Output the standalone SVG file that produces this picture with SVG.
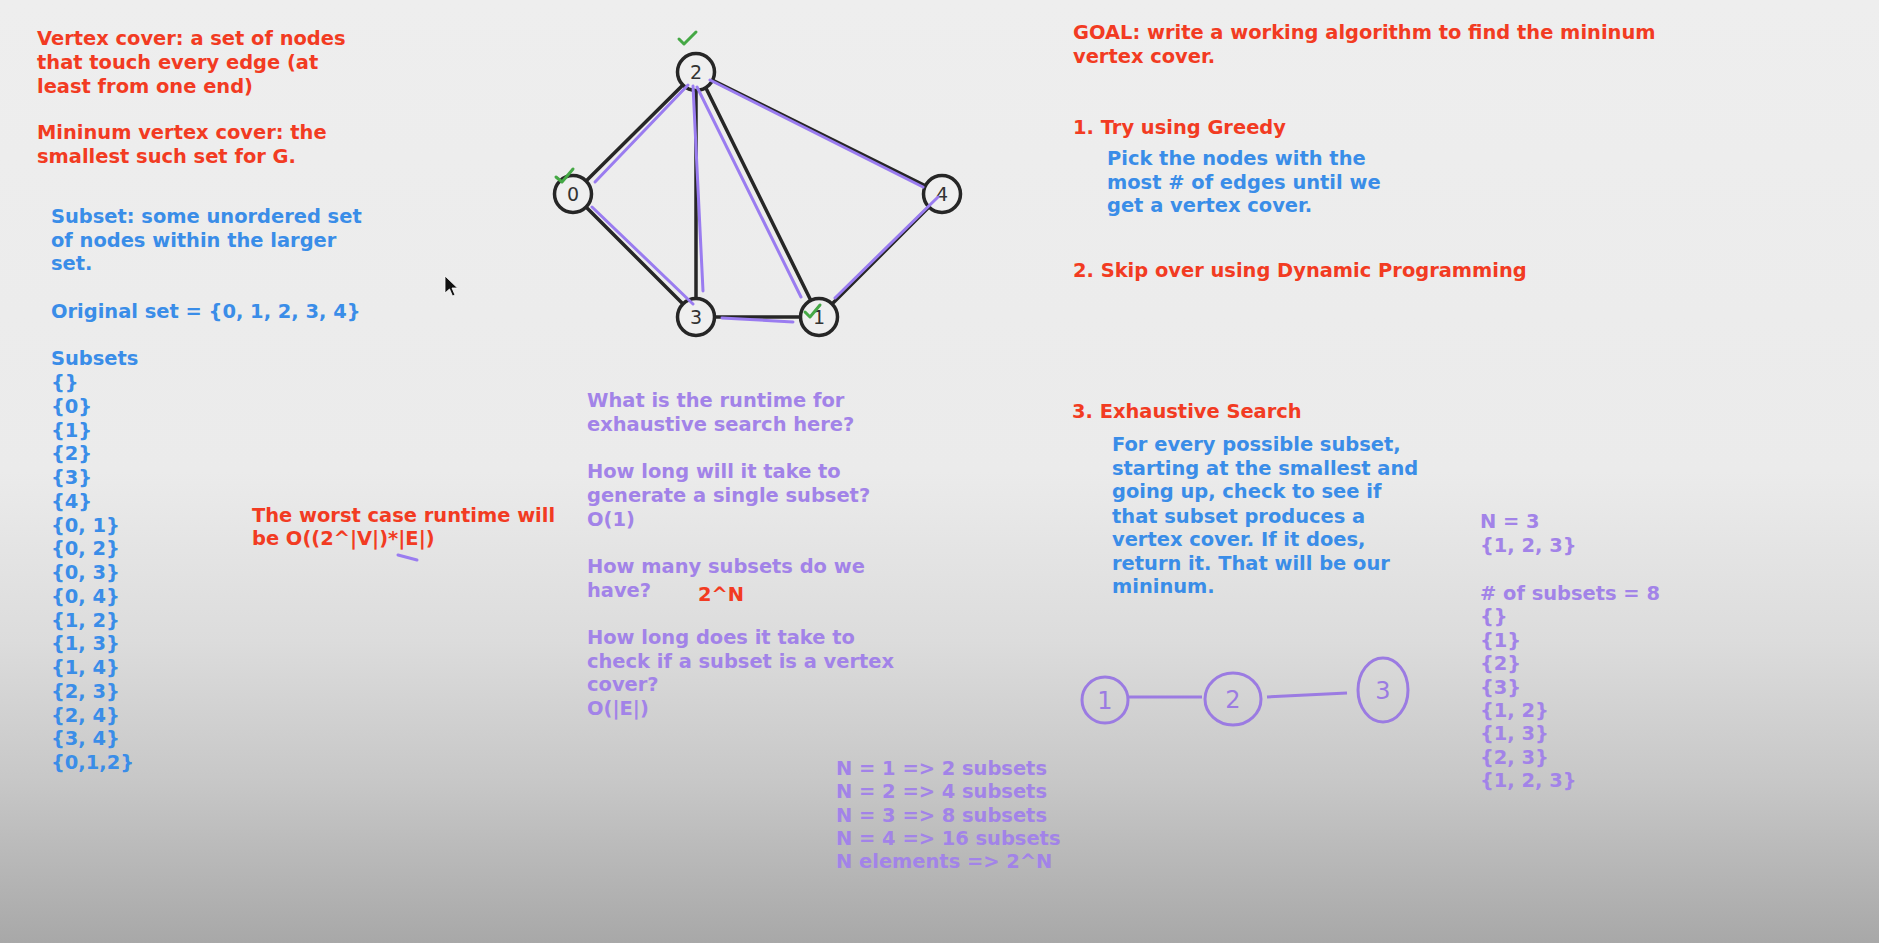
<svg xmlns="http://www.w3.org/2000/svg" width="1879" height="943" viewBox="0 0 1879 943">
<defs>
<linearGradient id="bg" x1="0" y1="0" x2="0" y2="943" gradientUnits="userSpaceOnUse">
<stop offset="0" stop-color="#eeeeee"/>
<stop offset="0.5" stop-color="#ebebeb"/>
<stop offset="0.68" stop-color="#dcdcdc"/>
<stop offset="0.83" stop-color="#c7c7c7"/>
<stop offset="1" stop-color="#a8a8a8"/>
</linearGradient>
<style>
text{font-family:"DejaVu Sans","Verdana",sans-serif;font-weight:bold;font-size:19.45px}
.r{fill:#f23b22}
.b{fill:#3a8de8}
.p{fill:#a283e8}
.edge{stroke:#262626;stroke-width:3.5;stroke-linecap:round}
.hl{stroke:#9a7cf0;stroke-width:3;stroke-linecap:round;fill:none}
.node{fill:#efefef;stroke:#262626;stroke-width:3.5}
.nl{font-size:19px;font-weight:normal;fill:#333;text-anchor:middle}
.chk{stroke:#45a845;stroke-width:3;fill:none;stroke-linecap:round;stroke-linejoin:round}
.hd{fill:none;stroke:#9b7be2;stroke-width:3}
.hdt{font-weight:normal;font-size:24px;fill:#9b7be2;text-anchor:middle}
</style>
</defs>
<rect x="0" y="0" width="1879" height="943" fill="url(#bg)"/>

<g id="def-text">
<text class="r" x="37" y="45">Vertex cover: a set of nodes</text>
<text class="r" x="37" y="69">that touch every edge (at</text>
<text class="r" x="37" y="93">least from one end)</text>
<text class="r" x="37" y="139">Mininum vertex cover: the</text>
<text class="r" x="37" y="163">smallest such set for G.</text>
</g>

<g id="subset-text">
<text class="b" x="51" y="223">Subset: some unordered set</text>
<text class="b" x="51" y="247">of nodes within the larger</text>
<text class="b" x="51" y="270">set.</text>
<text class="b" x="51" y="318">Original set = {0, 1, 2, 3, 4}</text>
</g>

<g id="subsets-list">
<text class="b" x="51" y="365">Subsets</text>
<text class="b" x="51" y="389">{}</text>
<text class="b" x="51" y="413">{0}</text>
<text class="b" x="51" y="437">{1}</text>
<text class="b" x="51" y="460">{2}</text>
<text class="b" x="51" y="484">{3}</text>
<text class="b" x="51" y="508">{4}</text>
<text class="b" x="51" y="532">{0, 1}</text>
<text class="b" x="51" y="555">{0, 2}</text>
<text class="b" x="51" y="579">{0, 3}</text>
<text class="b" x="51" y="603">{0, 4}</text>
<text class="b" x="51" y="627">{1, 2}</text>
<text class="b" x="51" y="650">{1, 3}</text>
<text class="b" x="51" y="674">{1, 4}</text>
<text class="b" x="51" y="698">{2, 3}</text>
<text class="b" x="51" y="722">{2, 4}</text>
<text class="b" x="51" y="745">{3, 4}</text>
<text class="b" x="51" y="769">{0,1,2}</text>
</g>

<g id="worst-case">
<text class="r" x="252" y="522">The worst case runtime will</text>
<text class="r" x="252" y="545">be O((2^|V|)*|E|)</text>
<path d="M398 555 L417 560" stroke="#9a7cf0" stroke-width="3" stroke-linecap="round"/>
</g>

<g id="cursor">
<path d="M445 276 L445 293 L449.5 289 L452.5 296 L455 295 L452 288 L457.5 288 Z" fill="#111" stroke="#fff" stroke-width="0.8"/>
</g>

<g id="connectors">
<line class="edge" x1="573" y1="194" x2="696" y2="72"/>
<line class="edge" x1="573" y1="194" x2="696" y2="317"/>
<line class="edge" x1="696" y1="72" x2="696" y2="317"/>
<line class="edge" x1="698" y1="72" x2="819" y2="317"/>
<line class="edge" x1="696" y1="72" x2="942" y2="194"/>
<line class="edge" x1="696" y1="317" x2="819" y2="317"/>
<line class="edge" x1="819" y1="317" x2="942" y2="194"/>
</g>

<g id="node-0"><circle class="node" cx="573" cy="194" r="18.5"/><text class="nl" x="573" y="201">0</text></g>
<g id="node-1"><circle class="node" cx="819" cy="317" r="18.5"/><text class="nl" x="819" y="324">1</text></g>
<g id="node-2"><circle class="node" cx="696" cy="72" r="18.5"/><text class="nl" x="696" y="79">2</text></g>
<g id="node-3"><circle class="node" cx="696" cy="317" r="18.5"/><text class="nl" x="696" y="324">3</text></g>
<g id="node-4"><circle class="node" cx="942" cy="194" r="18.5"/><text class="nl" x="942" y="201">4</text></g>

<g id="highlights">
<line class="hl" x1="595" y1="182" x2="688" y2="85"/>
<line class="hl" x1="592" y1="207" x2="693" y2="304"/>
<line class="hl" x1="693" y1="86" x2="703" y2="291"/>
<line class="hl" x1="697" y1="87" x2="801" y2="297"/>
<line class="hl" x1="710" y1="80" x2="923" y2="187"/>
<line class="hl" x1="938" y1="197" x2="835" y2="298"/>
<line class="hl" x1="722" y1="318" x2="793" y2="322"/>
</g>

<g id="checks">
<path class="chk" d="M679 39 L684 44 L696 32"/>
<path class="chk" d="M556 177 L562 182 L573 169"/>
<path class="chk" d="M805 312 L810 317 L820 305"/>
</g>

<g id="questions">
<text class="p" x="587" y="407">What is the runtime for</text>
<text class="p" x="587" y="431">exhaustive search here?</text>
<text class="p" x="587" y="478">How long will it take to</text>
<text class="p" x="587" y="502">generate a single subset?</text>
<text class="p" x="587" y="526">O(1)</text>
<text class="p" x="587" y="573">How many subsets do we</text>
<text class="p" x="587" y="597">have?</text>
<text class="r" x="698" y="601">2^N</text>
<text class="p" x="587" y="644">How long does it take to</text>
<text class="p" x="587" y="668">check if a subset is a vertex</text>
<text class="p" x="587" y="691">cover?</text>
<text class="p" x="587" y="715">O(|E|)</text>
</g>

<g id="growth">
<text class="p" x="836" y="775">N = 1 =&gt; 2 subsets</text>
<text class="p" x="836" y="798">N = 2 =&gt; 4 subsets</text>
<text class="p" x="836" y="822">N = 3 =&gt; 8 subsets</text>
<text class="p" x="836" y="845">N = 4 =&gt; 16 subsets</text>
<text class="p" x="836" y="868">N elements =&gt; 2^N</text>
</g>

<g id="goal">
<text class="r" x="1073" y="39">GOAL: write a working algorithm to find the mininum</text>
<text class="r" x="1073" y="63">vertex cover.</text>
<text class="r" x="1073" y="134">1. Try using Greedy</text>
<text class="b" x="1107" y="165">Pick the nodes with the</text>
<text class="b" x="1107" y="189">most # of edges until we</text>
<text class="b" x="1107" y="212">get a vertex cover.</text>
<text class="r" x="1073" y="277">2. Skip over using Dynamic Programming</text>
<text class="r" x="1072" y="418">3. Exhaustive Search</text>
<text class="b" x="1112" y="451">For every possible subset,</text>
<text class="b" x="1112" y="475">starting at the smallest and</text>
<text class="b" x="1112" y="498">going up, check to see if</text>
<text class="b" x="1112" y="523">that subset produces a</text>
<text class="b" x="1112" y="546">vertex cover. If it does,</text>
<text class="b" x="1112" y="570">return it. That will be our</text>
<text class="b" x="1112" y="593">mininum.</text>
</g>

<g id="small-connectors">
<path class="hd" d="M1129 697 L1202 697"/>
<path class="hd" d="M1267 697 L1347 693"/>
</g>
<g id="small-node-1"><ellipse class="hd" cx="1105" cy="700" rx="23" ry="23"/><text class="hdt" x="1105" y="709">1</text></g>
<g id="small-node-2"><ellipse class="hd" cx="1233" cy="699" rx="28" ry="26"/><text class="hdt" x="1233" y="708">2</text></g>
<g id="small-node-3"><ellipse class="hd" cx="1383" cy="690" rx="25" ry="32"/><text class="hdt" x="1383" y="699">3</text></g>

<g id="example">
<text class="p" x="1480" y="528">N = 3</text>
<text class="p" x="1480" y="552">{1, 2, 3}</text>
<text class="p" x="1480" y="600"># of subsets = 8</text>
<text class="p" x="1480" y="623">{}</text>
<text class="p" x="1480" y="647">{1}</text>
<text class="p" x="1480" y="670">{2}</text>
<text class="p" x="1480" y="694">{3}</text>
<text class="p" x="1480" y="717">{1, 2}</text>
<text class="p" x="1480" y="740">{1, 3}</text>
<text class="p" x="1480" y="764">{2, 3}</text>
<text class="p" x="1480" y="787">{1, 2, 3}</text>
</g>
</svg>
